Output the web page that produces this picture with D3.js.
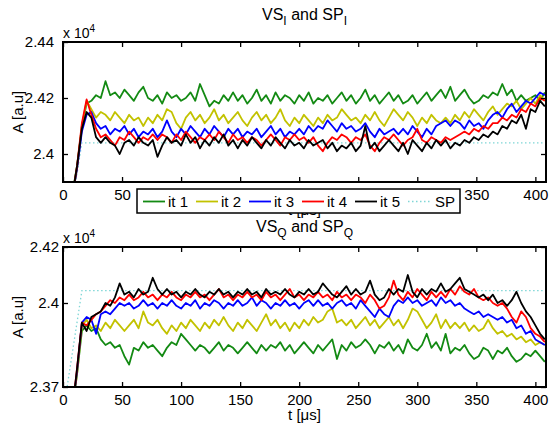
<!DOCTYPE html>
<html><head><meta charset="utf-8">
<script src="https://cdn.jsdelivr.net/npm/d3@7"></script>
<style>
html,body{margin:0;padding:0;background:#fff;}
svg{display:block;font-family:"Liberation Sans",Arial,sans-serif;}
</style></head>
<body><svg id="c" width="550" height="424"></svg>
<script>
// sample times (µs)
const times = [8,12,16,20,24,28,32,36,40,44,
 48,52,56,60,64,68,72,76,80,84,
 88,92,96,100,104,108,112,116,120,124,
 128,132,136,140,144,148,152,156,160,164,
 168,172,176,180,184,188,192,196,200,204,
 208,212,216,220,224,228,232,236,240,244,
 248,252,256,260,264,268,272,276,280,284,
 288,292,296,300,304,308,312,316,320,324,
 328,332,336,340,344,348,352,356,360,364,
 368,372,376,380,384,388,392,396,400,404,
 408];
const spTimes = [2,16,409];
const seriesNames = ["it 1","it 2","it 3","it 4","it 5","SP"];
const seriesColors = ["#138a13","#c2c200","#0000ff","#ff0000","#000000","#7fd6d6"];

// VS_I (x 10^4)
const it1I = [2.386,2.396,2.410,2.418,2.419,2.421,2.420,2.426,2.421,2.422,
 2.420,2.423,2.421,2.419,2.422,2.424,2.420,2.419,2.421,2.418,
 2.422,2.420,2.421,2.419,2.420,2.422,2.419,2.425,2.421,2.417,
 2.419,2.418,2.421,2.419,2.422,2.419,2.421,2.418,2.420,2.423,
 2.419,2.421,2.418,2.422,2.419,2.421,2.420,2.418,2.421,2.419,
 2.422,2.418,2.420,2.419,2.421,2.418,2.420,2.422,2.419,2.421,
 2.418,2.420,2.423,2.419,2.421,2.418,2.420,2.422,2.419,2.421,
 2.418,2.419,2.421,2.418,2.420,2.422,2.419,2.421,2.423,2.420,
 2.424,2.419,2.421,2.423,2.420,2.418,2.419,2.421,2.420,2.422,
 2.421,2.425,2.421,2.423,2.419,2.421,2.419,2.420,2.421,2.419,
 2.422];
const it2I = [2.385,2.395,2.410,2.419,2.416,2.413,2.415,2.414,2.412,2.415,
 2.413,2.411,2.414,2.412,2.413,2.410,2.413,2.411,2.414,2.412,
 2.416,2.415,2.411,2.409,2.413,2.415,2.412,2.414,2.411,2.413,
 2.416,2.412,2.414,2.411,2.413,2.415,2.412,2.410,2.413,2.415,
 2.412,2.414,2.411,2.413,2.416,2.412,2.410,2.413,2.411,2.414,
 2.412,2.410,2.413,2.411,2.414,2.412,2.413,2.416,2.414,2.412,
 2.413,2.411,2.414,2.412,2.415,2.412,2.410,2.413,2.416,2.414,
 2.412,2.415,2.413,2.410,2.413,2.411,2.414,2.412,2.411,2.413,
 2.411,2.414,2.412,2.415,2.413,2.416,2.414,2.412,2.415,2.417,
 2.414,2.416,2.418,2.417,2.419,2.416,2.418,2.420,2.418,2.421,
 2.419];
const it3I = [2.385,2.395,2.408,2.414,2.415,2.411,2.409,2.410,2.407,2.409,
 2.408,2.410,2.407,2.409,2.406,2.408,2.407,2.409,2.406,2.408,
 2.412,2.408,2.406,2.409,2.407,2.410,2.408,2.406,2.409,2.407,
 2.410,2.408,2.406,2.409,2.407,2.409,2.406,2.408,2.407,2.409,
 2.406,2.408,2.410,2.407,2.409,2.406,2.408,2.407,2.409,2.407,
 2.410,2.408,2.410,2.409,2.412,2.410,2.408,2.411,2.409,2.410,
 2.408,2.409,2.411,2.408,2.406,2.409,2.407,2.408,2.409,2.407,
 2.409,2.407,2.410,2.408,2.406,2.409,2.407,2.410,2.411,2.412,
 2.410,2.412,2.411,2.409,2.412,2.410,2.411,2.409,2.412,2.414,
 2.415,2.413,2.416,2.418,2.415,2.417,2.419,2.418,2.420,2.422,
 2.421];
const it4I = [2.385,2.396,2.411,2.4195,2.414,2.409,2.406,2.407,2.405,2.403,
 2.406,2.405,2.408,2.406,2.404,2.406,2.405,2.407,2.405,2.407,
 2.406,2.404,2.407,2.405,2.408,2.406,2.404,2.406,2.405,2.407,
 2.405,2.408,2.406,2.404,2.407,2.405,2.406,2.404,2.406,2.405,
 2.403,2.405,2.407,2.405,2.403,2.406,2.405,2.407,2.405,2.406,
 2.404,2.406,2.403,2.401,2.404,2.406,2.405,2.407,2.406,2.404,
 2.406,2.405,2.407,2.403,2.401,2.404,2.406,2.405,2.407,2.405,
 2.403,2.405,2.406,2.409,2.405,2.404,2.406,2.405,2.404,2.406,
 2.405,2.406,2.407,2.408,2.407,2.409,2.408,2.410,2.409,2.411,
 2.411,2.413,2.412,2.414,2.413,2.416,2.415,2.418,2.417,2.420,
 2.419];
const it5I = [2.385,2.396,2.409,2.415,2.413,2.406,2.404,2.406,2.404,2.403,
 2.400,2.404,2.405,2.403,2.406,2.404,2.403,2.405,2.399,2.403,
 2.406,2.404,2.405,2.403,2.407,2.404,2.406,2.402,2.405,2.403,
 2.406,2.404,2.407,2.403,2.405,2.402,2.405,2.403,2.406,2.404,
 2.402,2.405,2.403,2.406,2.404,2.402,2.405,2.403,2.404,2.402,
 2.405,2.403,2.404,2.405,2.402,2.404,2.401,2.403,2.402,2.404,
 2.401,2.403,2.410,2.402,2.404,2.401,2.403,2.405,2.403,2.401,
 2.404,2.400,2.405,2.403,2.401,2.404,2.402,2.405,2.403,2.405,
 2.402,2.404,2.403,2.405,2.404,2.406,2.405,2.407,2.406,2.408,
 2.407,2.410,2.409,2.412,2.411,2.414,2.409,2.416,2.415,2.419,
 2.417];
const spI = [2.367,2.404,2.404];

// VS_Q (x 10^4)
const it1Q = [2.362,2.375,2.390,2.392,2.390,2.391,2.387,2.385,2.386,2.384,
 2.385,2.381,2.378,2.384,2.383,2.386,2.384,2.385,2.383,2.381,
 2.384,2.386,2.385,2.389,2.387,2.385,2.383,2.385,2.384,2.382,
 2.384,2.386,2.383,2.385,2.384,2.382,2.384,2.386,2.384,2.382,
 2.385,2.383,2.385,2.384,2.386,2.383,2.385,2.382,2.384,2.386,
 2.384,2.382,2.385,2.383,2.385,2.387,2.380,2.385,2.383,2.386,
 2.384,2.385,2.387,2.385,2.382,2.385,2.384,2.386,2.383,2.385,
 2.382,2.387,2.384,2.383,2.385,2.389,2.384,2.386,2.383,2.389,
 2.382,2.384,2.383,2.385,2.382,2.380,2.381,2.384,2.383,2.380,
 2.383,2.382,2.384,2.381,2.379,2.380,2.382,2.381,2.383,2.381,
 2.379];
const it2Q = [2.362,2.375,2.392,2.394,2.391,2.392,2.390,2.393,2.391,2.394,
 2.392,2.390,2.392,2.394,2.391,2.397,2.393,2.392,2.394,2.391,
 2.389,2.392,2.390,2.393,2.391,2.394,2.392,2.390,2.393,2.391,
 2.394,2.392,2.395,2.392,2.390,2.393,2.391,2.394,2.392,2.390,
 2.393,2.396,2.392,2.394,2.391,2.393,2.390,2.393,2.391,2.394,
 2.392,2.395,2.393,2.394,2.397,2.398,2.393,2.394,2.392,2.394,
 2.391,2.393,2.395,2.392,2.394,2.391,2.393,2.395,2.392,2.394,
 2.391,2.394,2.398,2.397,2.394,2.391,2.393,2.396,2.391,2.394,
 2.391,2.393,2.391,2.393,2.390,2.392,2.390,2.391,2.394,2.391,
 2.389,2.390,2.388,2.389,2.387,2.388,2.386,2.387,2.385,2.386,
 2.385];
const it3Q = [2.362,2.376,2.393,2.395,2.394,2.389,2.396,2.397,2.396,2.398,
 2.400,2.399,2.400,2.398,2.399,2.401,2.399,2.400,2.398,2.400,
 2.399,2.401,2.399,2.398,2.400,2.399,2.401,2.398,2.400,2.399,
 2.401,2.400,2.398,2.400,2.399,2.401,2.399,2.400,2.402,2.399,
 2.401,2.400,2.398,2.400,2.399,2.401,2.399,2.400,2.398,2.400,
 2.401,2.399,2.401,2.399,2.400,2.398,2.400,2.401,2.399,2.400,
 2.398,2.401,2.399,2.397,2.395,2.398,2.396,2.395,2.399,2.401,
 2.400,2.402,2.400,2.401,2.399,2.400,2.401,2.399,2.402,2.400,
 2.401,2.399,2.400,2.398,2.397,2.396,2.397,2.395,2.396,2.395,
 2.394,2.395,2.393,2.394,2.391,2.392,2.389,2.390,2.387,2.386,
 2.385];
const it4Q = [2.362,2.377,2.393,2.392,2.394,2.396,2.397,2.399,2.401,2.400,
 2.402,2.401,2.403,2.401,2.402,2.404,2.402,2.403,2.401,2.403,
 2.402,2.404,2.402,2.401,2.403,2.402,2.404,2.402,2.403,2.401,
 2.403,2.405,2.402,2.403,2.401,2.403,2.402,2.404,2.402,2.403,
 2.401,2.404,2.402,2.403,2.401,2.403,2.405,2.402,2.403,2.401,
 2.403,2.402,2.404,2.402,2.403,2.401,2.404,2.402,2.403,2.401,
 2.403,2.402,2.400,2.403,2.401,2.398,2.399,2.402,2.408,2.403,
 2.401,2.404,2.402,2.405,2.403,2.401,2.404,2.402,2.404,2.402,
 2.405,2.403,2.406,2.404,2.403,2.405,2.402,2.401,2.402,2.400,
 2.399,2.400,2.398,2.395,2.393,2.397,2.395,2.391,2.389,2.388,
 2.386];
const it5Q = [2.362,2.377,2.393,2.390,2.395,2.396,2.397,2.400,2.399,2.402,
 2.407,2.403,2.404,2.402,2.405,2.403,2.404,2.409,2.405,2.403,
 2.405,2.403,2.404,2.402,2.404,2.403,2.405,2.403,2.402,2.404,
 2.403,2.405,2.403,2.404,2.402,2.404,2.403,2.405,2.403,2.404,
 2.402,2.405,2.403,2.404,2.403,2.405,2.403,2.402,2.404,2.403,
 2.405,2.403,2.404,2.407,2.405,2.403,2.402,2.404,2.406,2.403,
 2.405,2.403,2.404,2.408,2.403,2.401,2.402,2.405,2.403,2.405,
 2.404,2.410,2.404,2.402,2.405,2.403,2.405,2.404,2.407,2.404,
 2.405,2.407,2.409,2.405,2.404,2.403,2.402,2.403,2.401,2.403,
 2.400,2.401,2.399,2.401,2.404,2.400,2.397,2.395,2.392,2.389,
 2.387];
const spQ = [2.366,2.4044,2.4044];

const xTicks = [0,50,100,150,200,250,300,350,400];
const yTicksI = [2.4,2.42,2.44];
const yTicksQ = [2.37,2.4,2.42];

const svg = d3.select("#c");
const FONT = 15;

function panel(cfg){
  const {top, bottom, left, right} = cfg;
  const x = d3.scaleLinear().domain([0,409]).range([left,right]);
  const y = d3.scaleLinear().domain(cfg.ydom).range([bottom,top]);
  const g = svg.append("g");
  const clipId = "clip"+cfg.id;
  svg.append("clipPath").attr("id",clipId).append("rect")
    .attr("x",left).attr("y",top).attr("width",right-left).attr("height",bottom-top);

  // title
  const t = g.append("text").attr("x",(left+right)/2).attr("y",cfg.titleY)
    .attr("text-anchor","middle").attr("font-size",16).attr("fill","#000");
  t.append("tspan").text("VS");
  t.append("tspan").attr("dy",5).attr("font-size",12).text(cfg.sub);
  t.append("tspan").attr("dy",-5).text(" and SP");
  t.append("tspan").attr("dy",5).attr("font-size",12).text(cfg.sub);

  // x label (drawn early so the legend can cover it)
  g.append("text").attr("x",(left+right)/2).attr("y",bottom+33)
    .attr("text-anchor","middle").attr("font-size",FONT).text("t [\u03bcs]");

  // lines
  const lg = g.append("g").attr("clip-path",`url(#${clipId})`);
  const line = d3.line().x(d=>x(d[0])).y(d=>y(d[1]));
  lg.append("path").datum(d3.zip(spTimes,cfg.sp)).attr("d",line)
    .attr("fill","none").attr("stroke",seriesColors[5]).attr("stroke-width",1.3)
    .attr("stroke-dasharray","1.5,2.5");
  cfg.series.forEach((s,i)=>{
    lg.append("path").datum(d3.zip(times,s)).attr("d",line)
      .attr("fill","none").attr("stroke",seriesColors[i]).attr("stroke-width",1.8)
      .attr("stroke-linejoin","round");
  });

  // axes
  const fmt = d3.format(".2~f");
  const ax = g.append("g").attr("transform",`translate(0,${bottom})`)
    .call(d3.axisBottom(x).tickValues(xTicks).tickSize(-5).tickPadding(7));
  const axT = g.append("g").attr("transform",`translate(0,${top})`)
    .call(d3.axisTop(x).tickValues(xTicks).tickSize(-5).tickFormat(""));
  const ay = g.append("g").attr("transform",`translate(${left},0)`)
    .call(d3.axisLeft(y).tickValues(cfg.yticks).tickSize(-5).tickPadding(cfg.ypad).tickFormat(fmt));
  const ayR = g.append("g").attr("transform",`translate(${right},0)`)
    .call(d3.axisRight(y).tickValues(cfg.yticks).tickSize(-5).tickFormat(""));
  [ax,axT,ay,ayR].forEach(a=>{
    a.select(".domain").remove();
    a.selectAll(".tick line").attr("stroke","#000").attr("stroke-width",1.3);
    a.selectAll("text").attr("font-size",FONT).attr("fill","#000")
      .attr("font-family",'"Liberation Sans",Arial,sans-serif');
  });
  g.append("rect").attr("x",left).attr("y",top).attr("width",right-left).attr("height",bottom-top)
    .attr("fill","none").attr("stroke","#000").attr("stroke-width",2);

  // exponent
  const e = g.append("text").attr("x",left).attr("y",top-4).attr("font-size",14).attr("fill","#000");
  e.append("tspan").text("x 10");
  e.append("tspan").attr("dy",-6).attr("font-size",10).text("4");

  // y label
  g.append("text").attr("transform",`translate(23,${(top+bottom)/2}) rotate(-90)`)
    .attr("text-anchor","middle").attr("font-size",FONT).text("A [a.u]");
  return {x,y};
}

panel({id:"I", top:42, bottom:182, left:63, right:546, ydom:[2.39,2.44], yticks:yTicksI, ypad:9,
  titleY:20, sub:"I", series:[it1I,it2I,it3I,it4I,it5I], sp:spI});
panel({id:"Q", top:247, bottom:387, left:63, right:546, ydom:[2.37,2.42], yticks:yTicksQ, ypad:4,
  titleY:232, sub:"Q", series:[it1Q,it2Q,it3Q,it4Q,it5Q], sp:spQ});

// legend (drawn over the upper panel's x-axis labels, as in the original)
const leg = svg.append("g");
leg.append("rect").attr("x",137).attr("y",189).attr("width",323).attr("height",24)
  .attr("fill","#fff").attr("stroke","#000").attr("stroke-width",1.5);
seriesNames.forEach((n,i)=>{
  const x0 = 143 + 53*i;
  leg.append("line").attr("x1",x0).attr("x2",x0+22).attr("y1",201.5).attr("y2",201.5)
    .attr("stroke",seriesColors[i]).attr("stroke-width",i===5?1.3:1.8)
    .attr("stroke-dasharray",i===5?"1.5,2.5":null);
  leg.append("text").attr("x",x0+25+(i===5?2:0)).attr("y",207).attr("font-size",FONT).text(n);
});
</script></body></html>
